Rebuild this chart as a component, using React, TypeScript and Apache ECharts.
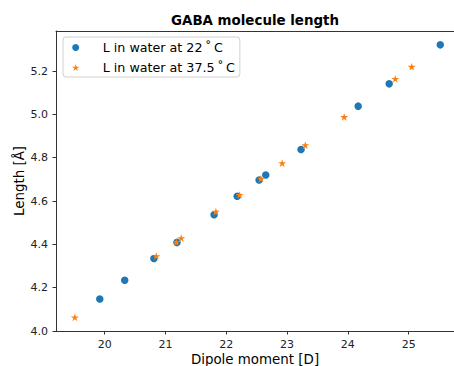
import React, { useEffect, useRef } from "react";
import * as echarts from "echarts";

const blueX = [19.92, 20.33, 20.81, 21.19, 21.8, 22.18, 22.54, 22.65, 23.23, 24.17, 24.68, 25.52];
const blueY = [4.148, 4.234, 4.335, 4.409, 4.537, 4.622, 4.697, 4.72, 4.838, 5.038, 5.141, 5.321];
const orangeX = [19.51, 20.85, 21.18, 21.26, 21.83, 22.22, 22.57, 22.92, 23.3, 23.94, 24.78, 25.05];
const orangeY = [4.063, 4.346, 4.41, 4.429, 4.551, 4.628, 4.703, 4.775, 4.858, 4.988, 5.164, 5.22];
const xTicks = [20, 21, 22, 23, 24, 25];
const yTicks = [4.0, 4.2, 4.4, 4.6, 4.8, 5.0, 5.2];
const seriesNames = ["L in water at 22\u2009\u02DA\u2009C", "L in water at 37.5\u2009\u02DA\u2009C"];
const titleText = "GABA molecule length";
const xName = "Dipole moment [D]";
const yName = "Length [\u00C5]";

const STAR =
  "path://M50,0 L61.2,34.5 L97.6,34.5 L68.2,55.9 L79.4,90.5 L50,69.1 L20.6,90.5 L31.8,55.9 L2.4,34.5 L38.8,34.5 Z";

const FONT = "DejaVu Sans";

export default function App() {
  const ref = useRef<HTMLDivElement>(null);
  useEffect(() => {
    if (!ref.current) return;
    const chart = echarts.init(ref.current, undefined, { renderer: "svg" });
    const axisLineStyle = { color: "#333", width: 1 };
    chart.setOption({
      animation: false,
      backgroundColor: "#fff",
      grid: { left: 56, top: 31, right: 0, height: 300, outerBoundsMode: "none", containLabel: false },
      graphic: [
        {
          type: "text",
          x: 255,
          y: 20,
          style: {
            text: titleText,
            textAlign: "center",
            textVerticalAlign: "middle",
            font: `bold 13.4px ${FONT}`,
            fill: "#000",
          },
        },
      ],
      legend: {
        orient: "vertical",
        left: 63,
        top: 37,
        padding: [4, 5, 3, 9],
        itemGap: 7,
        itemWidth: 14,
        itemHeight: 7,
        borderColor: "#d0d0d0",
        borderWidth: 1,
        borderRadius: 3,
        backgroundColor: "rgba(255,255,255,0.8)",
        textStyle: { fontFamily: FONT, fontSize: 12.7, color: "#000", padding: [0, 0, 0, 15] },
        data: seriesNames,
      },
      xAxis: [
        {
          type: "value",
          min: 19.2,
          max: 25.746,
          name: xName,
          nameLocation: "middle",
          nameGap: 22,
          nameMoveOverlap: false,
          nameTextStyle: { fontFamily: FONT, fontSize: 13.4, color: "#000", lineHeight: 12 },
          axisLine: { show: true, onZero: false, lineStyle: axisLineStyle },
          axisTick: { show: true, length: 3.5, lineStyle: axisLineStyle, customValues: xTicks },
          axisLabel: {
            fontFamily: FONT,
            fontSize: 11,
            lineHeight: 12,
            color: "#222",
            margin: 7,
            customValues: xTicks,
            formatter: (v: number) => String(v),
          },
          splitLine: { show: false },
        },
        {
          type: "value",
          position: "top",
          min: 19.2,
          max: 25.746,
          axisLine: { show: true, onZero: false, lineStyle: axisLineStyle },
          axisTick: { show: false },
          axisLabel: { show: false },
          splitLine: { show: false },
        },
      ],
      yAxis: {
        type: "value",
        min: 4.0,
        max: 5.385,
        name: yName,
        nameLocation: "middle",
        nameGap: 30,
        nameMoveOverlap: false,
        nameTextStyle: { fontFamily: FONT, fontSize: 13.4, color: "#000" },
        axisLine: { show: true, onZero: false, lineStyle: axisLineStyle },
        axisTick: { show: true, length: 3.5, lineStyle: axisLineStyle, customValues: yTicks },
        axisLabel: {
          fontFamily: FONT,
          fontSize: 11,
          color: "#222",
          margin: 8,
          customValues: yTicks,
          formatter: (v: number) => v.toFixed(1),
        },
        splitLine: { show: false },
      },
      series: [
        {
          name: seriesNames[0],
          type: "scatter",
          symbol: "circle",
          symbolSize: 7.5,
          itemStyle: { color: "#1f77b4", opacity: 1 },
          data: blueX.map((x, i) => [x, blueY[i]]),
        },
        {
          name: seriesNames[1],
          type: "scatter",
          symbol: STAR,
          symbolKeepAspect: true,
          symbolSize: 8,
          itemStyle: { color: "#ff7f0e", opacity: 1 },
          data: orangeX.map((x, i) => [x, orangeY[i]]),
        },
      ],
    });
    return () => chart.dispose();
  }, []);
  return (
    <div
      ref={ref}
      style={{ position: "fixed", left: 0, top: 0, width: 454, height: 366, background: "#fff" }}
    />
  );
}
